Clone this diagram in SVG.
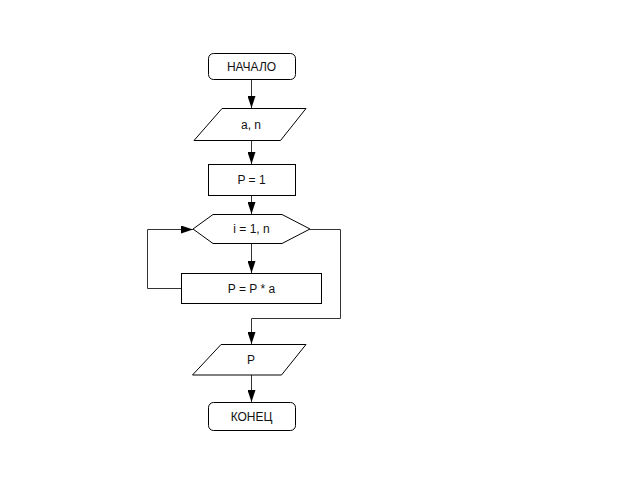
<svg xmlns="http://www.w3.org/2000/svg" width="620" height="483" viewBox="0 0 620 483">
<defs>
<marker id="arr" markerUnits="userSpaceOnUse" markerWidth="12" markerHeight="8" refX="12" refY="4" orient="auto">
<path d="M0,0 L12,4 L0,8 Z" fill="#000"/>
</marker>
<style>
.s{fill:#fff;stroke:#000;stroke-width:1}
.c{fill:none;stroke:#333;stroke-width:1}
.t{font-family:"Liberation Sans",Arial,sans-serif;font-size:12px;fill:#111;text-anchor:middle}
</style>
</defs>
<rect width="620" height="483" fill="#fff"/>
<g id="connectors">
<path class="c" d="M251.5,79 V108" marker-end="url(#arr)"/>
<path class="c" d="M251.5,140 V164" marker-end="url(#arr)"/>
<path class="c" d="M251.5,195 V214" marker-end="url(#arr)"/>
<path class="c" d="M251.5,243 V273" marker-end="url(#arr)"/>
<path class="c" d="M181,288.5 H147.5 V229.5 H193" marker-end="url(#arr)"/>
<path class="c" d="M310,229.5 H340.5 V318.5 H251.5 V344" marker-end="url(#arr)"/>
<path class="c" d="M251.5,375 V402" marker-end="url(#arr)"/>
</g>
<g id="start">
<rect class="s" x="208.5" y="53.5" width="87" height="26" rx="5"/>
<text class="t" x="251.5" y="70.5">НАЧАЛО</text>
</g>
<g id="input">
<polygon class="s" points="222,108.5 306,108.5 280.5,140.5 194,140.5"/>
<text class="t" x="251" y="128.5">a, n</text>
</g>
<g id="init">
<rect class="s" x="208.5" y="164.5" width="87" height="31"/>
<text class="t" x="251.5" y="184">P = 1</text>
</g>
<g id="loop">
<polygon class="s" points="193,229 213,214.5 282,214.5 310,229 282,243.5 213,243.5"/>
<text class="t" x="251.5" y="233">i = 1, n</text>
</g>
<g id="body">
<rect class="s" x="181.5" y="273.5" width="140" height="30"/>
<text class="t" x="251.5" y="292.5">P = P * a</text>
</g>
<g id="output">
<polygon class="s" points="221,344.5 306,344.5 281.5,375 192.5,375"/>
<text class="t" x="251" y="364">P</text>
</g>
<g id="end">
<rect class="s" x="208.5" y="402.5" width="87" height="28" rx="5"/>
<text class="t" x="251.5" y="420.5">КОНЕЦ</text>
</g>
</svg>
